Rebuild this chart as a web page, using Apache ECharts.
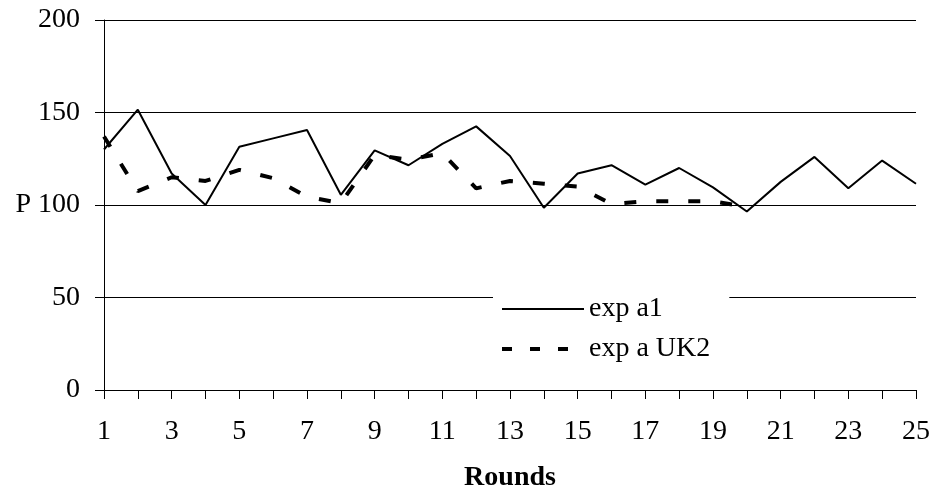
<!DOCTYPE html>
<html>
<head>
<meta charset="utf-8">
<style>
html,body{margin:0;padding:0;background:#fff;}
#chart{width:933px;height:498px;}
</style>
<script src="https://cdn.jsdelivr.net/npm/echarts@6/dist/echarts.min.js"></script>
</head>
<body>
<div id="chart"></div>
<script>
var rounds = ['1','2','3','4','5','6','7','8','9','10','11','12','13','14','15','16','17','18','19','20','21','22','23','24','25'];
var expA1 = [130, 151.5, 117, 100, 131.5, 136, 140.5, 105.5, 129.5, 121.5, 133, 142.5, 126.5, 98.5, 117, 121.5, 111, 120, 109.5, 96.5, 112.5, 126, 109, 124, 111.5];
var expAUK2 = [137, 107.5, 115, 113, 119, 114.5, 104.5, 101, 127, 124.5, 128, 109, 113, 111.5, 110, 100.5, 102, 102, 102, 99, null, null, null, null, null];
var yTicks = [0, 50, 100, 150, 200];

var FONT = '"Liberation Serif", "Times New Roman", serif';
var chart = echarts.init(document.getElementById('chart'), null, {renderer: 'canvas'});
chart.setOption({
  animation: false,
  backgroundColor: '#fff',
  grid: {left: 104, right: 16, top: 20, bottom: 108, containLabel: false},
  xAxis: {
    type: 'category',
    data: rounds,
    boundaryGap: false,
    name: 'Rounds',
    nameLocation: 'middle',
    nameGap: 74,
    nameTextStyle: {fontFamily: FONT, fontSize: 28, fontWeight: 'bold', color: '#000'},
    axisLine: {lineStyle: {color: '#000', width: 1}},
    axisTick: {show: true, interval: 0, length: 9, lineStyle: {color: '#000'}},
    axisLabel: {interval: 1, margin: 28, fontFamily: FONT, fontSize: 28, color: '#000'},
    splitLine: {show: false}
  },
  yAxis: {
    type: 'value',
    min: yTicks[0],
    max: yTicks[yTicks.length - 1],
    interval: 50,
    axisLine: {show: true, lineStyle: {color: '#000', width: 1}},
    axisTick: {show: true, length: 9, lineStyle: {color: '#000'}},
    axisLabel: {
      margin: 24, fontFamily: FONT, fontSize: 28, color: '#000',
      formatter: function (v) { return v === 100 ? 'P 100' : String(v); }
    },
    splitLine: {show: true, lineStyle: {color: '#000', width: 1}}
  },
  legend: {
    orient: 'vertical',
    left: 493,
    top: 291,
    backgroundColor: '#fff',
    padding: [4, 19, 6, 7],
    itemWidth: 82,
    itemHeight: 28,
    itemGap: 12,
    itemStyle: {opacity: 0},
    textStyle: {fontFamily: FONT, fontSize: 28, color: '#000'},
    data: [
      {name: 'exp a1'},
      {name: 'exp a UK2', lineStyle: {type: [10, 18], width: 4}}
    ]
  },
  series: [
    {
      name: 'exp a1',
      type: 'line',
      data: expA1,
      symbol: 'none',
      lineStyle: {color: '#000', width: 2},
      itemStyle: {color: '#000'},
      z: 3
    },
    {
      name: 'exp a UK2',
      type: 'line',
      data: expAUK2,
      symbol: 'none',
      connectNulls: false,
      lineStyle: {color: '#000', width: 4, type: [12, 20]},
      itemStyle: {color: '#000'},
      z: 2
    }
  ]
});
</script>
</body>
</html>
